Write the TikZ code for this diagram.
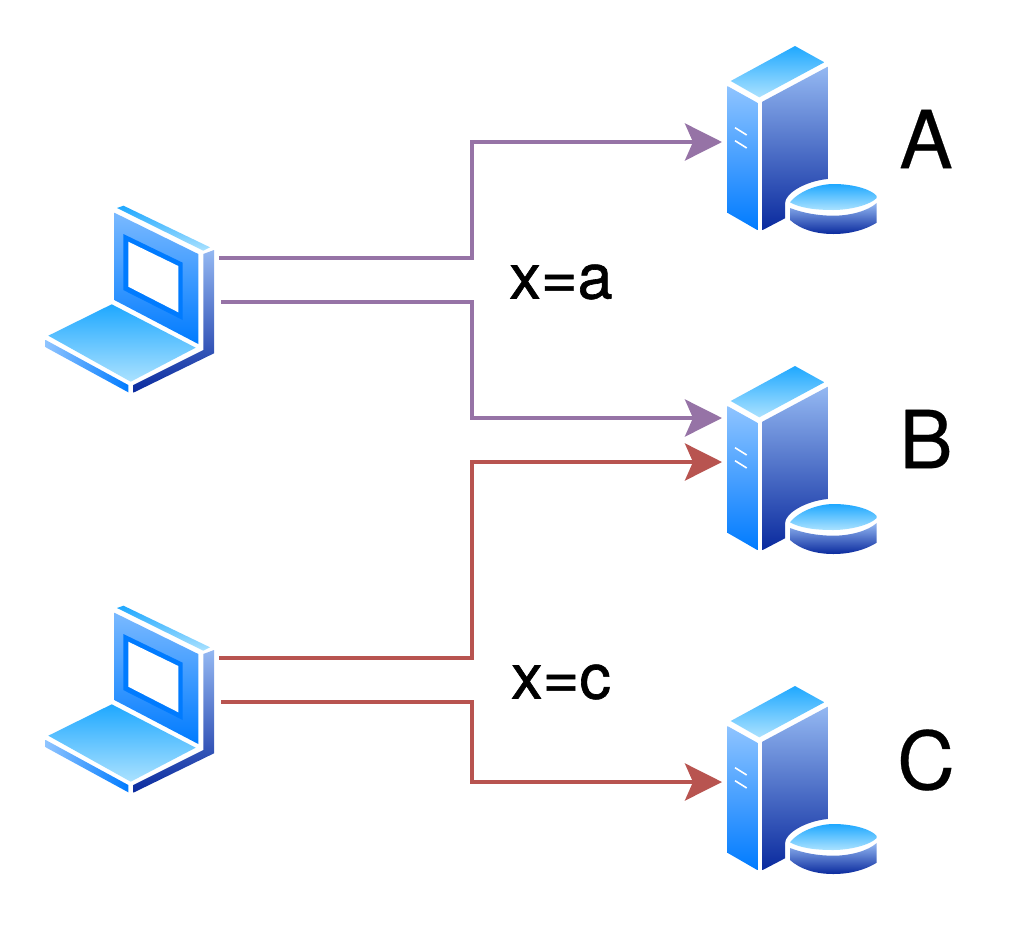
\documentclass[tikz,border=0pt]{standalone}
\usepackage{fontspec}
\setmainfont{TeX Gyre Heros}
\newfontfamily\biglabelfont{TeX Gyre Heros}[FakeBold=0.3]
\newfontfamily\smalllabelfont{TeX Gyre Heros}[FakeBold=1]
\usetikzlibrary{arrows.meta}
\definecolor{skytop}{HTML}{1FA8FF}
\definecolor{skybot}{HTML}{ABE2FF}
\definecolor{bluetop}{HTML}{8FC4FF}
\definecolor{bluebot}{HTML}{007BFF}
\definecolor{navytop}{HTML}{94B8F2}
\definecolor{navybot}{HTML}{0A2A9E}
\definecolor{flowpurple}{HTML}{9673A6}
\definecolor{flowred}{HTML}{B85450}
\tikzset{
  x=1pt,y=-1pt,
  skyface/.style={top color=skytop,bottom color=skybot,draw=none},
  blueface/.style={top color=bluetop,bottom color=bluebot,draw=none},
  navyface/.style={top color=navytop,bottom color=navybot,draw=none},
  flow/.style={line width=4pt,rounded corners=0pt,-{Stealth[length=37pt,width=37pt,inset=8pt]}},
  purpleflow/.style={flow,draw=flowpurple,flowpurple},
  redflow/.style={flow,draw=flowred,flowred},
  biglabel/.style={inner sep=0pt,font=\biglabelfont\fontsize{80}{80}\selectfont},
  smalllabel/.style={inner sep=0pt,font=\smalllabelfont\fontsize{63}{63}\selectfont},
  laptop/.pic={
    \path[skyface] (117,208) -- (123.5,205.7) -- (210,247.3) -- (203.3,250.7) -- cycle;
    \path[top color=bluetop!85!bluebot,bottom color=bluebot,draw=none] (114.3,212.7) -- (198.3,254) -- (198.3,344) -- (114.3,300) -- cycle;
    \path[fill=bluebot] (123.3,234) -- (182.7,262.7) -- (182.7,320) -- (123.3,290) -- cycle;
    \path[fill=white] (128.3,241.7) -- (178.3,266) -- (178.3,312.3) -- (128.3,286.7) -- cycle;
    \path[navyface] (203.3,254) -- (214,250) -- (214,353.3) -- (133.3,392.7) -- (133.3,385) -- (203.3,350) -- cycle;
    \path[skyface] (111.7,304.3) -- (195.7,347.7) -- (130.7,381.7) -- (48.3,335.7) -- cycle;
    \path[left color=bluetop,right color=bluebot,draw=none] (45.7,340) -- (128.3,385) -- (128.3,392.3) -- (45.7,347.3) -- cycle;
    \coordinate (-outa) at (219,258);
    \coordinate (-outb) at (221,301.5);
  },
  server/.pic={
    \path[skyface] (795,46) -- (824.3,62.3) -- (759.3,97.3) -- (730.7,81) -- cycle;
    \path[blueface] (727.3,86) -- (757.3,102.7) -- (757.3,230) -- (727.3,212.7) -- cycle;
    \path[navyface] (762.3,101.7) -- (827.7,66.7) -- (827.7,179) .. controls (806,181) and (785,193) .. (785,203.3) -- (785,218.3) -- (762.7,230) -- cycle;
    \draw[white,line width=1.6pt] (735,127.7) -- (746.7,135);
    \draw[white,line width=1.6pt] (735,140.7) -- (746.7,148);
    \path[skyface] (790,202.3) .. controls (800,190) and (820,184) .. (833.3,184) .. controls (855,184) and (872,190) .. (876.7,196) -- (876.7,198) .. controls (870,205) and (850,210) .. (833.3,210) .. controls (815,210) and (800,208) .. (790,202.3) -- cycle;
    \path[navyface] (790,208) .. controls (803,213) and (818,215.7) .. (833.3,215.7) .. controls (850,215.7) and (868,211) .. (876.7,203) -- (876.7,222.7) .. controls (865,230) and (850,234) .. (833.3,234) .. controls (815,234) and (800,229) .. (790,220) -- cycle;
  },
}
\begin{document}
\begin{tikzpicture}
\useasboundingbox (0,0) rectangle (1028,924);
\fill[white] (0,0) rectangle (1028,924);
\pic (laptopone) at (0,0) {laptop};
\pic (laptoptwo) at (0,400) {laptop};
\pic (servera) at (0,0) {server};
\pic (serverb) at (0,320) {server};
\pic (serverc) at (0,640) {server};
\coordinate (ina) at (722,142);
\coordinate (inbp) at (722,418);
\coordinate (inbr) at (722,462);
\coordinate (inc) at (722,782);
\draw[purpleflow] (laptopone-outa) -- (472,258) -- (472,142) -- (ina);
\draw[purpleflow] (laptopone-outb) -- (472,301.5) -- (472,418) -- (inbp);
\draw[redflow] (laptoptwo-outa) -- (472,658) -- (472,462) -- (inbr);
\draw[redflow] (laptoptwo-outb) -- (472,701.5) -- (472,782) -- (inc);
\node[biglabel] (labela) at (926,139) {A};
\node[biglabel] (labelb) at (926,439) {B};
\node[biglabel] (labelc) at (926,760) {C};
\node[smalllabel] (labelxa) at (561,282) {x=a};
\node[smalllabel] (labelxc) at (561,682) {x=c};
\end{tikzpicture}
\end{document}
